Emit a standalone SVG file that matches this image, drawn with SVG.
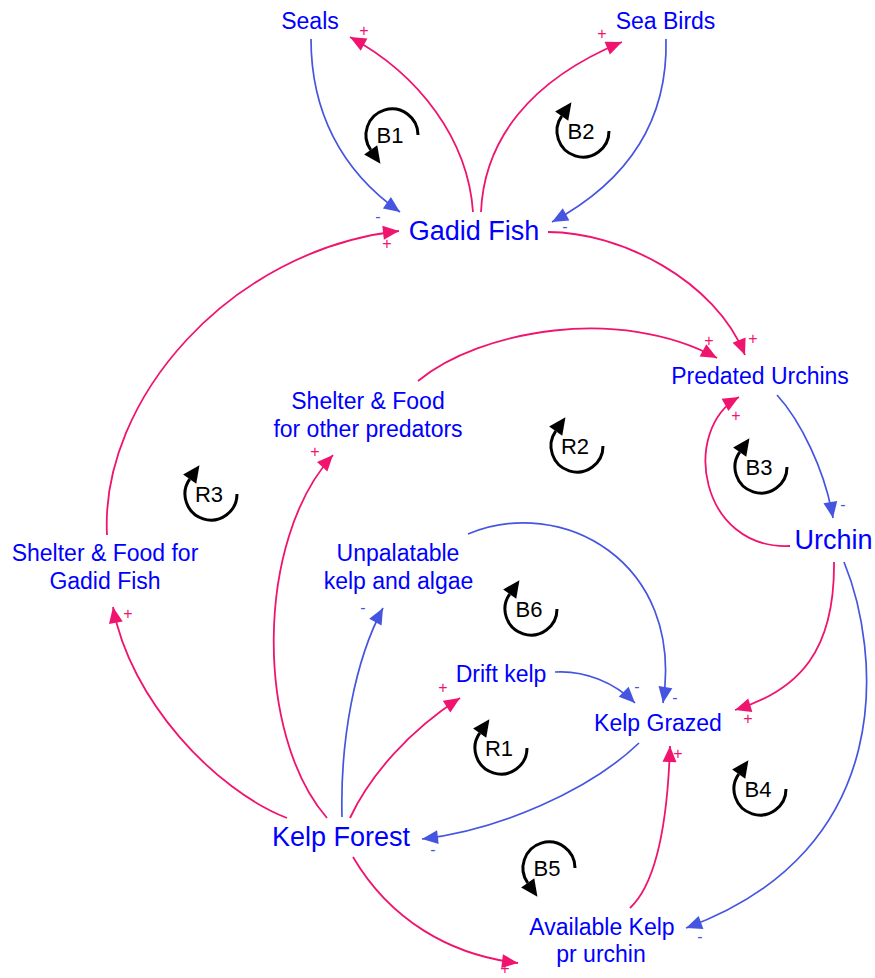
<svg xmlns="http://www.w3.org/2000/svg" width="875" height="978" viewBox="0 0 875 978">
<style>
.n{font-family:"Liberation Sans",Arial,sans-serif;fill:#0000ff;text-anchor:middle}
.s{font-size:23px}
.b{font-size:27px}
.p{stroke:#F0146E;fill:none;stroke-width:1.8;marker-end:url(#ap)}
.q{stroke:#4555E0;fill:none;stroke-width:1.7;marker-end:url(#aq)}
.sp{font-family:"Liberation Sans",Arial,sans-serif;font-size:16px;fill:#F0146E;text-anchor:middle}
.sq{font-family:"Liberation Sans",Arial,sans-serif;font-size:16px;fill:#4555E0;text-anchor:middle}
.lp{stroke:#000;stroke-width:3;fill:none;marker-end:url(#al)}
.lt{font-family:"Liberation Sans",Arial,sans-serif;font-size:22px;fill:#000;text-anchor:middle}
</style>
<defs>
<marker id="ap" markerUnits="userSpaceOnUse" orient="auto" overflow="visible" refX="0" refY="0" markerWidth="17" markerHeight="15"><path d="M-16,-7 L0,0 L-16,7 z" fill="#F0146E"/></marker>
<marker id="aq" markerUnits="userSpaceOnUse" orient="auto" overflow="visible" refX="0" refY="0" markerWidth="17" markerHeight="15"><path d="M-16,-7 L0,0 L-16,7 z" fill="#4555E0"/></marker>
<marker id="al" markerUnits="userSpaceOnUse" orient="auto" overflow="visible" refX="0" refY="0" markerWidth="18" markerHeight="16"><path d="M0,-8 L17,0 L0,8 z" fill="#000"/></marker>
</defs>
<rect width="875" height="978" fill="#fff"/>
<g id="connectors">
<path class="q" d="M311,39 C311,110 340,170 400,212"/>
<path class="p" d="M473,212 C468,140 420,75 350,37"/>
<path class="p" d="M481,212 C484,140 530,80 622,42"/>
<path class="q" d="M666,39 C668,120 630,180 552,222"/>
<path class="p" d="M107,535 C100,400 230,250 399,231"/>
<path class="p" d="M548,232 C620,232 715,280 745,355"/>
<path class="p" d="M418,381 C480,330 620,305 717,358"/>
<path class="q" d="M777,395 C800,420 825,470 833,518"/>
<path class="p" d="M790,546 C700,550 680,430 739,397"/>
<path class="p" d="M834,562 C835,650 800,690 735,710"/>
<path class="q" d="M844,562 C880,650 900,850 686,928"/>
<path class="q" d="M468,534 C560,495 685,560 663,703"/>
<path class="q" d="M555,672 C585,670 615,683 635,703"/>
<path class="q" d="M639,743 C590,790 500,830 422,839"/>
<path class="p" d="M630,908 C660,880 668,810 670,746"/>
<path class="p" d="M287,818 C215,790 130,700 113,607"/>
<path class="p" d="M327,818 C255,735 255,540 333,455"/>
<path class="q" d="M342,817 C340,740 355,660 383,608"/>
<path class="p" d="M350,818 C370,775 410,730 460,698"/>
<path class="p" d="M353,857 C390,920 450,955 518,963"/>
<text class="sq" x="378" y="222">-</text>
<text class="sp" x="364" y="36">+</text>
<text class="sp" x="602" y="39">+</text>
<text class="sq" x="565" y="232">-</text>
<text class="sp" x="387" y="249">+</text>
<text class="sp" x="753" y="344">+</text>
<text class="sp" x="709" y="346">+</text>
<text class="sq" x="843" y="510">-</text>
<text class="sp" x="736" y="421">+</text>
<text class="sp" x="748" y="724">+</text>
<text class="sq" x="700" y="942">-</text>
<text class="sq" x="675" y="703">-</text>
<text class="sq" x="637" y="692">-</text>
<text class="sq" x="433" y="855">-</text>
<text class="sp" x="678" y="759">+</text>
<text class="sp" x="128" y="619">+</text>
<text class="sp" x="315" y="457">+</text>
<text class="sq" x="363" y="613">-</text>
<text class="sp" x="443" y="693">+</text>
<text class="sp" x="505" y="974">+</text>
</g>
<g id="seals"><text class="n s" x="310" y="29">Seals</text></g>
<g id="sea-birds"><text class="n s" x="665.5" y="29">Sea Birds</text></g>
<g id="gadid-fish"><text class="n b" x="474" y="240">Gadid Fish</text></g>
<g id="predated-urchins"><text class="n s" x="760" y="384">Predated Urchins</text></g>
<g id="urchin"><text class="n b" x="833.5" y="549">Urchin</text></g>
<g id="shelter-other"><text class="n s" x="368" y="409">Shelter &amp; Food</text><text class="n s" x="368" y="437">for other predators</text></g>
<g id="shelter-gadid"><text class="n s" x="105" y="561">Shelter &amp; Food for</text><text class="n s" x="105" y="589">Gadid Fish</text></g>
<g id="unpalatable"><text class="n s" x="398" y="561">Unpalatable</text><text class="n s" x="398.5" y="589">kelp and algae</text></g>
<g id="drift-kelp"><text class="n s" x="501" y="682">Drift kelp</text></g>
<g id="kelp-grazed"><text class="n s" x="658" y="731">Kelp Grazed</text></g>
<g id="kelp-forest"><text class="n b" x="341" y="846">Kelp Forest</text></g>
<g id="available-kelp"><text class="n s" x="602" y="935">Available Kelp</text><text class="n s" x="601" y="962">pr urchin</text></g>
<g id="loops">
<g id="loop-b1" transform="translate(392,135)"><path class="lp" d="M26,0 A26,26 0 1 0 -21.3,14.9"/><text class="lt" x="-2" y="8">B1</text></g>
<g id="loop-b2" transform="translate(583,131)"><path class="lp" d="M26,0 A26,26 0 1 1 -21.3,-14.9"/><text class="lt" x="-2" y="8">B2</text></g>
<g id="loop-b3" transform="translate(761,467)"><path class="lp" d="M26,0 A26,26 0 1 1 -21.3,-14.9"/><text class="lt" x="-2" y="8">B3</text></g>
<g id="loop-b4" transform="translate(760,789)"><path class="lp" d="M26,0 A26,26 0 1 1 -21.3,-14.9"/><text class="lt" x="-2" y="8">B4</text></g>
<g id="loop-b5" transform="translate(549,868)"><path class="lp" d="M26,0 A26,26 0 1 0 -21.3,14.9"/><text class="lt" x="-2" y="8">B5</text></g>
<g id="loop-b6" transform="translate(531,609)"><path class="lp" d="M26,0 A26,26 0 1 1 -21.3,-14.9"/><text class="lt" x="-2" y="8">B6</text></g>
<g id="loop-r1" transform="translate(501,748)"><path class="lp" d="M26,0 A26,26 0 1 1 -21.3,-14.9"/><text class="lt" x="-2" y="8">R1</text></g>
<g id="loop-r2" transform="translate(577,446)"><path class="lp" d="M26,0 A26,26 0 1 1 -21.3,-14.9"/><text class="lt" x="-2" y="8">R2</text></g>
<g id="loop-r3" transform="translate(211,494)"><path class="lp" d="M26,0 A26,26 0 1 1 -21.3,-14.9"/><text class="lt" x="-2" y="8">R3</text></g>
</g>
</svg>
